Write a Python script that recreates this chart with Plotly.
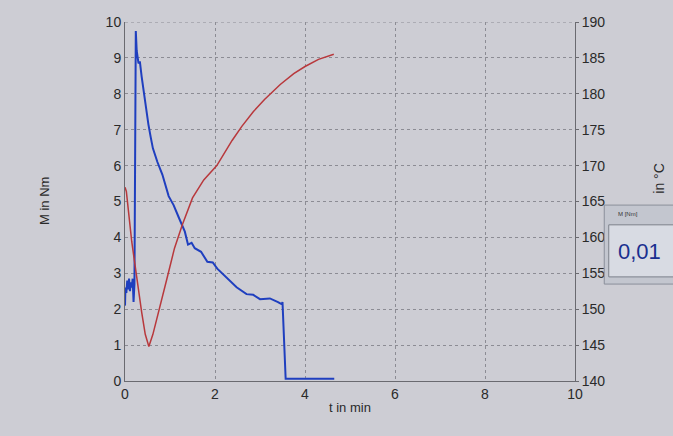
import plotly.graph_objects as go

# Torque (blue, left axis, Nm) vs time (min)
t_torque = [0.00, 0.01, 0.03, 0.05, 0.07, 0.09, 0.11, 0.13, 0.15, 0.17, 0.19, 0.21,
            0.24, 0.26, 0.30, 0.33, 0.37, 0.40, 0.43, 0.47, 0.52, 0.57, 0.62, 0.72,
            0.83, 0.97, 1.08, 1.20, 1.33, 1.40, 1.48, 1.55, 1.69, 1.83, 1.95, 2.05,
            2.17, 2.27, 2.48, 2.70, 2.85, 3.00, 3.22, 3.40, 3.48, 3.50, 3.57, 4.65]
torque = [2.10, 2.60, 2.45, 2.80, 2.55, 2.85, 2.50, 2.75, 2.60, 2.85, 2.20, 2.70,
          9.75, 9.20, 8.85, 8.90, 8.48, 8.20, 7.92, 7.50, 7.15, 6.80, 6.48, 6.10,
          5.75, 5.15, 4.90, 4.54, 4.16, 3.80, 3.85, 3.70, 3.60, 3.32, 3.30, 3.13,
          2.98, 2.85, 2.61, 2.42, 2.40, 2.28, 2.30, 2.20, 2.14, 2.20, 0.06, 0.06]

# Temperature (red, right axis, °C) vs time (min)
t_temp = [0.00, 0.03, 0.15, 0.26, 0.37, 0.45, 0.53, 0.62, 0.75, 0.93, 1.10, 1.27,
          1.50, 1.75, 2.04, 2.38, 2.60, 2.85, 3.10, 3.45, 3.75, 4.00, 4.30, 4.64]
temp = [167.0, 166.4, 159.4, 154.2, 149.6, 146.5, 144.8, 146.5, 149.6, 154.2, 158.5, 161.7,
        165.5, 168.0, 170.0, 173.5, 175.5, 177.5, 179.2, 181.3, 182.8, 183.8, 184.8, 185.5]

x_ticks = [0, 2, 4, 6, 8, 10]
y_ticks = list(range(0, 11))
y2_ticks = list(range(140, 191, 5))

FONT = "Liberation Sans, Arial, sans-serif"
BG = "#cdcdd4"
GRID = "#8c8c94"
TXT = "#2a2a2a"

fig = go.Figure()
fig.add_trace(go.Scatter(x=t_torque, y=torque, mode="lines",
                         line=dict(color="#1f3fbf", width=2), yaxis="y", showlegend=False))
fig.add_trace(go.Scatter(x=t_temp, y=temp, mode="lines",
                         line=dict(color="#b8383c", width=1.5), yaxis="y2", showlegend=False))

fig.update_layout(
    width=673, height=436,
    margin=dict(l=125, r=98, t=22, b=55),
    paper_bgcolor=BG, plot_bgcolor=BG,
    font=dict(family=FONT, size=14, color=TXT),
    xaxis=dict(range=[0, 10], tickvals=x_ticks, showgrid=True, gridcolor=GRID,
               griddash="dot", gridwidth=1, zeroline=False, showline=True,
               linecolor="#6a6a70", linewidth=1, ticks="", tickfont=dict(size=14)),
    yaxis=dict(range=[0, 10], tickvals=y_ticks, showgrid=True, gridcolor=GRID,
               griddash="dot", gridwidth=1, zeroline=False, showline=True,
               linecolor="#6a6a70", linewidth=1, ticks="", tickfont=dict(size=14)),
    yaxis2=dict(range=[140, 190], tickvals=y2_ticks, overlaying="y", side="right",
                showgrid=False, zeroline=False, showline=True, linecolor="#6a6a70",
                linewidth=1, ticks="outside", ticklen=3, tickcolor="#6a6a70",
                tickfont=dict(size=14)),
)

# Axis titles
fig.add_annotation(text="M in Nm", xref="paper", yref="paper", x=-0.2, y=0.5,
                   textangle=-90, showarrow=False, font=dict(size=13, color=TXT))
fig.add_annotation(text="t in min", xref="paper", yref="paper", x=0.5, y=-0.075,
                   yanchor="middle", showarrow=False, font=dict(size=13, color=TXT))
fig.add_annotation(text="in °C", xref="paper", yref="paper", x=1.21, y=0.565,
                   textangle=-90, showarrow=False, font=dict(size=14, color=TXT))
# top dotted border line at 10
fig.add_shape(type="line", xref="x", yref="y", x0=0, x1=10, y0=10, y1=10,
              line=dict(color=GRID, width=1, dash="dot"))

# Small value display window at right
fig.add_shape(type="rect", xref="paper", yref="paper", x0=1.065, x1=1.25, y0=0.27, y1=0.49,
              fillcolor="#c3c6cf", line=dict(color="#8a8f9a", width=1))
fig.add_shape(type="rect", xref="paper", yref="paper", x0=1.075, x1=1.25, y0=0.29, y1=0.435,
              fillcolor="#d8dbe3", line=dict(color="#7c808a", width=1))
fig.add_annotation(text="M [Nm]", xref="paper", yref="paper", x=1.09, y=0.465,
                   xanchor="left", showarrow=False, font=dict(size=6, color="#333"))
fig.add_annotation(text="0,01", xref="paper", yref="paper", x=1.09, y=0.36,
                   xanchor="left", showarrow=False, font=dict(size=22, color="#1a2f8f"))

fig.write_html("out.html")
